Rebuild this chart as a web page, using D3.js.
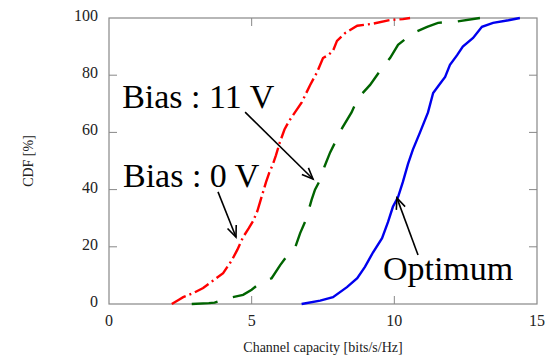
<!DOCTYPE html>
<html>
<head>
<meta charset="utf-8">
<script src="https://cdn.jsdelivr.net/npm/d3@7"></script>
<style>
    body { margin: 0; background: #fff; }
    text { font-family: "Liberation Serif", "Times New Roman", serif; }
</style>
</head>
<body>
<svg id="svgCdf" width="550" height="360"></svg>
<script>
// CDF curves: [capacity bits/s/Hz, CDF %]
let bias0 = [
    [2.2, 0], [2.45, 1.5], [2.6, 2.4], [2.95, 3.8], [3.3, 5.6], [3.65, 8.2], [4.0, 10.8],
    [4.3, 15.2], [4.5, 19], [4.7, 23.4], [4.9, 26.5], [5.05, 29], [5.2, 32.5], [5.35, 37.5],
    [5.5, 42.5], [5.62, 46], [5.75, 49], [5.85, 52], [5.99, 56.6], [6.15, 61], [6.3, 63.8],
    [6.45, 66], [6.76, 70.6], [7.05, 76.6], [7.29, 81], [7.5, 86], [7.68, 87], [7.85, 88.5],
    [7.99, 92], [8.27, 94.7], [8.7, 97.3], [9.25, 98], [9.85, 99.3], [10.3, 99.6], [10.55, 100]
];
let bias11 = [
    [2.9, 0], [3.5, 0.3], [3.7, 0.5], [4.14, 2], [4.7, 3.2], [5.0, 5], [5.29, 7.3], [5.7, 9],
    [6.0, 13.6], [6.25, 17], [6.52, 19.6], [6.7, 24.8], [6.9, 29.4], [7.1, 36.4], [7.22, 40],
    [7.4, 43.4], [7.55, 48], [7.75, 53], [7.95, 57], [8.17, 61.5], [8.5, 67], [8.73, 72],
    [9.15, 76.6], [9.57, 82.5], [9.85, 86], [10.13, 90.6], [10.66, 94.8], [11.15, 96.9],
    [11.53, 98.3], [12.2, 98.8], [13.0, 100]
];
let optimum = [
    [6.75, 0], [7.4, 1.2], [7.85, 2.4], [8.34, 5.9], [8.7, 9], [8.97, 13], [9.25, 18],
    [9.57, 23], [9.78, 28.7], [9.95, 34], [10.13, 37.4], [10.3, 42.7], [10.48, 49], [10.65, 54],
    [10.9, 60], [11.18, 67], [11.36, 73.8], [11.6, 77], [11.78, 79.4], [11.95, 83.6], [12.2, 87],
    [12.4, 90], [12.76, 93], [13.07, 96.9], [13.46, 98.3], [14.0, 99.2], [14.4, 100]
];

let xTicks = [0, 5, 10, 15];
let yTicks = [0, 20, 40, 60, 80, 100];

// annotation labels and arrows (data coords)
let notes = [
    { text: 'Bias : 11 V', x: 0.46, y: 68.5, from: [4.77, 67.1], to: [7.15, 43.7] },
    { text: 'Bias : 0 V', x: 0.49, y: 40.9, from: [3.82, 39.2], to: [4.45, 23.4] },
    { text: 'Optimum', x: 9.6, y: 8.4, from: [10.83, 17.1], to: [10.09, 37.1] }
];

let plotLeft = 109, plotRight = 537, plotTop = 18, plotBottom = 304;
let svg = d3.select('#svgCdf');
let x = d3.scaleLinear().domain([0, 15]).range([plotLeft, plotRight]);
let y = d3.scaleLinear().domain([0, 100]).range([plotBottom, plotTop]);

// frame
svg.append('rect')
    .attr('x', plotLeft).attr('y', plotTop)
    .attr('width', plotRight - plotLeft).attr('height', plotBottom - plotTop)
    .style('fill', 'none').style('stroke', '#888').style('stroke-width', 1.2);

// inward ticks on all four sides
let tickLen = 8;
let g = svg.append('g').style('stroke', '#888').style('stroke-width', 1);
g.append('g').selectAll('line').data(xTicks.slice(1, -1)).join('line')
    .attr('x1', d => x(d)).attr('x2', d => x(d))
    .attr('y1', plotBottom).attr('y2', plotBottom - tickLen);
g.append('g').selectAll('line').data(xTicks.slice(1, -1)).join('line')
    .attr('x1', d => x(d)).attr('x2', d => x(d))
    .attr('y1', plotTop).attr('y2', plotTop + tickLen);
g.append('g').selectAll('line').data(yTicks.slice(1, -1)).join('line')
    .attr('x1', plotLeft).attr('x2', plotLeft + tickLen)
    .attr('y1', d => y(d)).attr('y2', d => y(d));
g.append('g').selectAll('line').data(yTicks.slice(1, -1)).join('line')
    .attr('x1', plotRight).attr('x2', plotRight - tickLen)
    .attr('y1', d => y(d)).attr('y2', d => y(d));

// tick labels
svg.append('g').selectAll('text').data(xTicks).join('text')
    .attr('x', d => x(d))
    .attr('y', 326)
    .attr('text-anchor', 'middle')
    .style('font-size', '16px')
    .style('fill', '#222')
    .text(d => d);
svg.append('g').selectAll('text').data(yTicks).join('text')
    .attr('x', plotLeft - 11)
    .attr('y', d => y(d) + 3)
    .attr('text-anchor', 'end')
    .style('font-size', '16px')
    .style('fill', '#222')
    .text(d => d);

// axis titles
svg.append('text')
    .attr('x', (plotLeft + plotRight) / 2)
    .attr('y', 352)
    .attr('text-anchor', 'middle')
    .style('font-size', '14px')
    .style('fill', '#222')
    .text('Channel capacity [bits/s/Hz]');
svg.append('text')
    .attr('transform', 'translate(33,' + ((plotTop + plotBottom) / 2) + ') rotate(-90)')
    .attr('text-anchor', 'middle')
    .style('font-size', '14px')
    .style('fill', '#222')
    .text('CDF [%]');

// curves
let line = d3.line().x(d => x(d[0])).y(d => y(d[1]));
let series = [
    { data: bias0, color: '#ff0000', dash: '16,4,2,4' },
    { data: bias11, color: '#006400', dash: '26,16' },
    { data: optimum, color: '#0000ee', dash: null }
];
svg.append('g').selectAll('path').data(series).join('path')
    .attr('d', d => line(d.data))
    .style('fill', 'none')
    .style('stroke', d => d.color)
    .style('stroke-width', 2.4)
    .style('stroke-dasharray', d => d.dash);

// annotations
svg.append('g').selectAll('text').data(notes).join('text')
    .attr('x', d => x(d.x))
    .attr('y', d => y(d.y))
    .style('font-size', '34px')
    .style('fill', '#000')
    .text(d => d.text);

let arrows = svg.append('g').style('stroke', '#000').style('stroke-width', 1.6).style('fill', 'none');
notes.forEach(n => {
    let x1 = x(n.from[0]), y1 = y(n.from[1]), x2 = x(n.to[0]), y2 = y(n.to[1]);
    let a = Math.atan2(y2 - y1, x2 - x1);
    let head = 12, spread = 0.4;
    arrows.append('line').attr('x1', x1).attr('y1', y1).attr('x2', x2).attr('y2', y2);
    arrows.append('path')
        .attr('d', d3.line()([
            [x2 - head * Math.cos(a - spread), y2 - head * Math.sin(a - spread)],
            [x2, y2],
            [x2 - head * Math.cos(a + spread), y2 - head * Math.sin(a + spread)]
        ]));
});
</script>
</body>
</html>
